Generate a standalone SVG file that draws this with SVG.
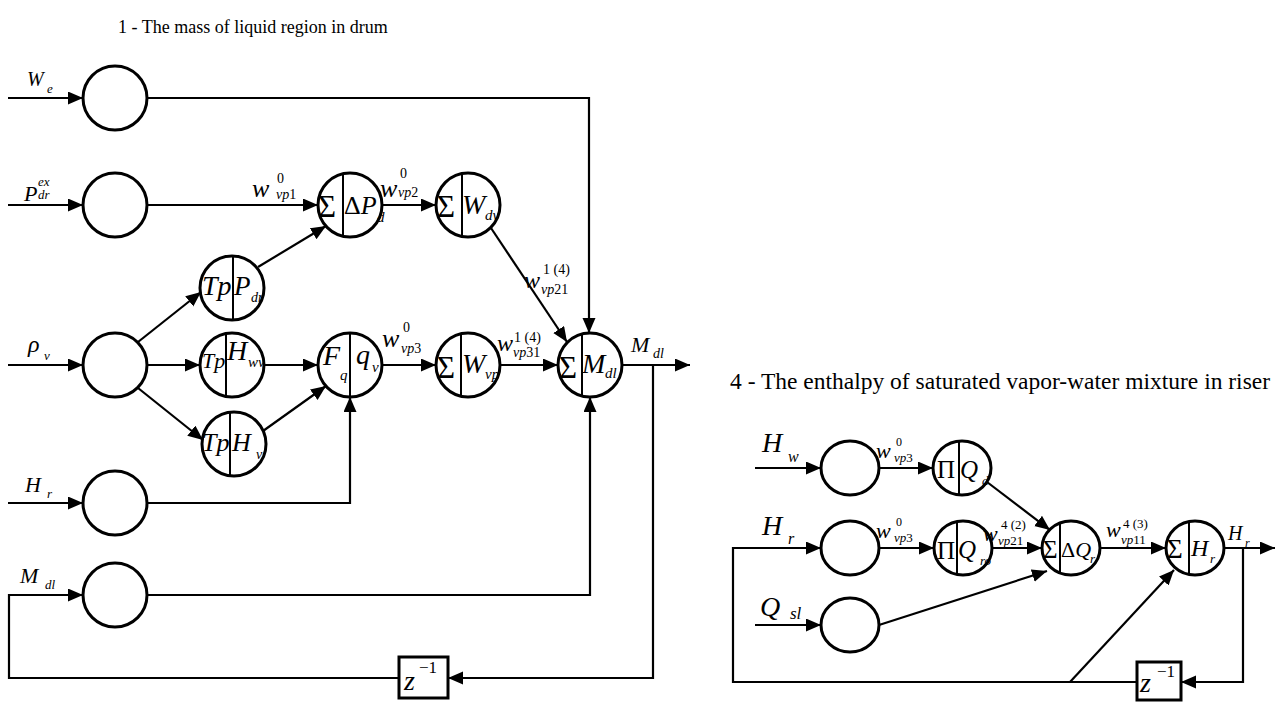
<svg xmlns="http://www.w3.org/2000/svg" width="1286" height="702" viewBox="0 0 1286 702">
<style>
text{font-family:"Liberation Serif","Times New Roman",serif;fill:#000}
.i{font-style:italic}
.c{fill:none;stroke:#000;stroke-width:3}
.dv{stroke:#000;stroke-width:2}
.e{fill:none;stroke:#000;stroke-width:2.2}
.a{marker-end:url(#ah)}
</style>
<defs>
<marker id="ah" markerUnits="userSpaceOnUse" markerWidth="16" markerHeight="14" refX="15" refY="6.5" orient="auto">
<path d="M0,0 L15,6.5 L0,13 z" fill="#000"/>
</marker>
</defs>
<rect width="1286" height="702" fill="#fff"/>
<text x="118" y="33" font-size="18">1 - The mass of liquid region in drum</text>
<text x="730" y="389" font-size="23.5">4 - The enthalpy of saturated vapor-water mixture in riser</text>

<g id="connectors">
<!-- left -->
<path class="e a" d="M8,98 H83"/>
<path class="e a" d="M147,98 H589 V333"/>
<path class="e a" d="M8,205 H83"/>
<path class="e a" d="M147,205 H318"/>
<path class="e a" d="M382,205 H436"/>
<path class="e a" d="M491,228 L567,342"/>
<path class="e a" d="M8,365 H83"/>
<path class="e a" d="M138,342 L201,292"/>
<path class="e a" d="M147,365 H200"/>
<path class="e a" d="M138,388 L203,440"/>
<path class="e a" d="M258,267 L326,226"/>
<path class="e a" d="M264,365 H318"/>
<path class="e a" d="M263,431 L326,386"/>
<path class="e a" d="M8,503 H83"/>
<path class="e a" d="M147,503 H350 V397"/>
<path class="e a" d="M382,365 H436"/>
<path class="e a" d="M500,365 H558"/>
<path class="e a" d="M622,365 H690"/>
<path class="e a" d="M399,678 H9 V595 H83"/>
<path class="e a" d="M147,595 H590 V397"/>
<path class="e a" d="M653,365 V678 H448"/>
<!-- right -->
<path class="e a" d="M755,468 H821"/>
<path class="e a" d="M879,468 H933"/>
<path class="e a" d="M1137,682 H733 V548 H821"/>
<path class="e a" d="M879,548 H934"/>
<path class="e a" d="M992,548 H1042"/>
<path class="e a" d="M1100,548 H1166"/>
<path class="e a" d="M1224,548 H1275"/>
<path class="e a" d="M1243,548 V682 H1181"/>
<path class="e a" d="M755,625 H821"/>
<path class="e a" d="M879,625 L1047,571"/>
<path class="e a" d="M987,482 L1050,530"/>
<path class="e a" d="M1070,682 L1174,570"/>
</g>

<!-- left edge labels -->
<g id="labels-left">
<text class="i" x="27" y="86" font-size="20">W</text><text class="i" x="47" y="93" font-size="13">e</text>
<text class="i" x="24" y="201" font-size="22">P</text><text class="i" x="38" y="186" font-size="13">ex</text><text class="i" x="38" y="199" font-size="13">dr</text>
<text class="i" x="28" y="352" font-size="24">ρ</text><text class="i" x="44" y="360" font-size="13">v</text>
<text class="i" x="25" y="492" font-size="22">H</text><text class="i" x="47" y="498" font-size="13">r</text>
<text class="i" x="20" y="583" font-size="22">M</text><text class="i" x="45" y="589" font-size="13">dl</text>
<text class="i" x="252" y="197" font-size="26">w</text><text x="277" y="183" font-size="14">0</text><text x="276" y="199" font-size="14"><tspan class="i">vp</tspan>1</text>
<text class="i" x="380" y="197" font-size="26">w</text><text x="400" y="178" font-size="14">0</text><text x="398" y="197" font-size="14"><tspan class="i">vp</tspan>2</text>
<text class="i" x="382" y="347" font-size="26">w</text><text x="403" y="332" font-size="14">0</text><text x="401" y="353" font-size="14"><tspan class="i">vp</tspan>3</text>
<text class="i" x="497" y="351" font-size="24">w</text><text x="514" y="342" font-size="14">1 (4)</text><text x="513" y="357" font-size="14"><tspan class="i">vp</tspan>31</text>
<text class="i" x="524" y="288" font-size="24">w</text><text x="543" y="274" font-size="14">1 (4)</text><text x="541" y="294" font-size="14"><tspan class="i">vp</tspan>21</text>
<text class="i" x="631" y="352" font-size="22">M</text><text class="i" x="653" y="358" font-size="14">dl</text>
</g>

<!-- left input nodes -->
<g id="n-we"><circle class="c" cx="115" cy="98" r="32"/></g>
<g id="n-pdr"><circle class="c" cx="115" cy="205" r="32"/></g>
<g id="n-rho"><circle class="c" cx="115" cy="365" r="32"/></g>
<g id="n-hr"><circle class="c" cx="115" cy="503" r="32"/></g>
<g id="n-mdl-in"><circle class="c" cx="115" cy="595" r="32"/></g>

<g id="n-sdp">
<circle class="c" cx="350" cy="205" r="32"/>
<line class="dv" x1="343" y1="174" x2="343" y2="236"/>
<text x="318" y="217" font-size="31">Σ</text>
<text x="344" y="214" font-size="26">Δ<tspan class="i">P</tspan></text>
<text class="i" x="377" y="222" font-size="15">d</text>
</g>
<g id="n-swdv">
<circle class="c" cx="468" cy="205" r="32"/>
<line class="dv" x1="462" y1="173" x2="462" y2="237"/>
<text x="437" y="217" font-size="31">Σ</text>
<text class="i" x="462" y="214" font-size="28">W</text>
<text class="i" x="485" y="220" font-size="15">dv</text>
</g>
<g id="n-tppdr">
<circle class="c" cx="232" cy="288" r="32"/>
<line class="dv" x1="233" y1="256" x2="233" y2="320"/>
<text class="i" x="202" y="295" font-size="28">Tp</text>
<text class="i" x="234" y="295" font-size="27">P</text>
<text class="i" x="251" y="302" font-size="14">dr</text>
</g>
<g id="n-tphwv">
<circle class="c" cx="232" cy="365" r="32"/>
<line class="dv" x1="226" y1="333" x2="226" y2="397"/>
<text class="i" x="202" y="368" font-size="22">Tp</text>
<text class="i" x="227" y="360" font-size="28">H</text>
<text class="i" x="248" y="367" font-size="15">wv</text>
</g>
<g id="n-tphv">
<circle class="c" cx="234" cy="444" r="32"/>
<line class="dv" x1="230" y1="412" x2="230" y2="476"/>
<text class="i" x="202" y="451" font-size="26">Tp</text>
<text class="i" x="232" y="451" font-size="26">H</text>
<text class="i" x="256" y="459" font-size="14">v</text>
</g>
<g id="n-fq">
<circle class="c" cx="350" cy="365" r="32"/>
<line class="dv" x1="350" y1="333" x2="350" y2="397"/>
<text class="i" x="323" y="365" font-size="28">F</text>
<text class="i" x="340" y="380" font-size="15">q</text>
<text class="i" x="356" y="364" font-size="28">q</text>
<text class="i" x="372" y="372" font-size="15">v</text>
</g>
<g id="n-swvp">
<circle class="c" cx="468" cy="365" r="32"/>
<line class="dv" x1="461" y1="333" x2="461" y2="397"/>
<text x="437" y="378" font-size="31">Σ</text>
<text class="i" x="462" y="373" font-size="28">W</text>
<text class="i" x="485" y="379" font-size="15">vp</text>
</g>
<g id="n-smdl">
<circle class="c" cx="590" cy="365" r="32"/>
<line class="dv" x1="582" y1="333" x2="582" y2="397"/>
<text x="559" y="378" font-size="31">Σ</text>
<text class="i" x="582" y="373" font-size="28">M</text>
<text class="i" x="605" y="378" font-size="15">dl</text>
</g>
<g id="n-z1">
<rect class="c" x="399" y="657" width="49" height="41"/>
<text class="i" x="404" y="690" font-size="28">z</text>
<text x="419" y="673" font-size="17">−1</text>
</g>

<!-- right labels -->
<g id="labels-right">
<text class="i" x="762" y="452" font-size="28">H</text><text class="i" x="788" y="462" font-size="16">w</text>
<text class="i" x="762" y="535" font-size="28">H</text><text class="i" x="788" y="544" font-size="16">r</text>
<text class="i" x="760" y="616" font-size="28">Q</text><text class="i" x="790" y="619" font-size="17">sl</text>
<text class="i" x="876" y="458" font-size="22">w</text><text x="896" y="446" font-size="12">0</text><text x="894" y="462" font-size="13"><tspan class="i">vp</tspan>3</text>
<text class="i" x="876" y="538" font-size="22">w</text><text x="896" y="526" font-size="12">0</text><text x="894" y="542" font-size="13"><tspan class="i">vp</tspan>3</text>
<text class="i" x="983" y="541" font-size="22">w</text><text x="1001" y="529" font-size="13">4 (2)</text><text x="998" y="545" font-size="13"><tspan class="i">vp</tspan>21</text>
<text class="i" x="1106" y="537" font-size="22">w</text><text x="1123" y="528" font-size="13">4 (3)</text><text x="1121" y="544" font-size="13"><tspan class="i">vp</tspan>11</text>
<text class="i" x="1228" y="540" font-size="20">H</text><text class="i" x="1245" y="547" font-size="12">r</text>
</g>

<g id="r-hw"><ellipse class="c" cx="850" cy="468" rx="29" ry="27"/></g>
<g id="r-hr"><ellipse class="c" cx="850" cy="548" rx="29" ry="27"/></g>
<g id="r-qsl"><ellipse class="c" cx="850" cy="625" rx="29" ry="27"/></g>
<g id="r-qd">
<ellipse class="c" cx="962" cy="468" rx="29" ry="27"/>
<line class="dv" x1="959" y1="441" x2="959" y2="495"/>
<text x="937" y="478" font-size="25">Π</text>
<text class="i" x="960" y="478" font-size="25">Q</text>
<text class="i" x="982" y="485" font-size="13">d</text>
</g>
<g id="r-qro">
<ellipse class="c" cx="963" cy="548" rx="29" ry="27"/>
<line class="dv" x1="957" y1="521" x2="957" y2="575"/>
<text x="937" y="559" font-size="25">Π</text>
<text class="i" x="958" y="558" font-size="25">Q</text>
<text class="i" x="980" y="565" font-size="13">ro</text>
</g>
<g id="r-dq">
<ellipse class="c" cx="1071" cy="548" rx="29" ry="27"/>
<line class="dv" x1="1060" y1="522" x2="1060" y2="574"/>
<text x="1043" y="558" font-size="25">Σ</text>
<text x="1061" y="557" font-size="22">Δ<tspan class="i">Q</tspan></text>
<text class="i" x="1090" y="563" font-size="13">r</text>
</g>
<g id="r-shr">
<ellipse class="c" cx="1195" cy="548" rx="29" ry="27"/>
<line class="dv" x1="1189" y1="521" x2="1189" y2="575"/>
<text x="1167" y="558" font-size="27">Σ</text>
<text class="i" x="1191" y="556" font-size="24">H</text>
<text class="i" x="1210" y="563" font-size="13">r</text>
</g>
<g id="r-z1">
<rect class="c" x="1137" y="662" width="44" height="38"/>
<text class="i" x="1140" y="692" font-size="28">z</text>
<text x="1157" y="677" font-size="17">−1</text>
</g>
</svg>
